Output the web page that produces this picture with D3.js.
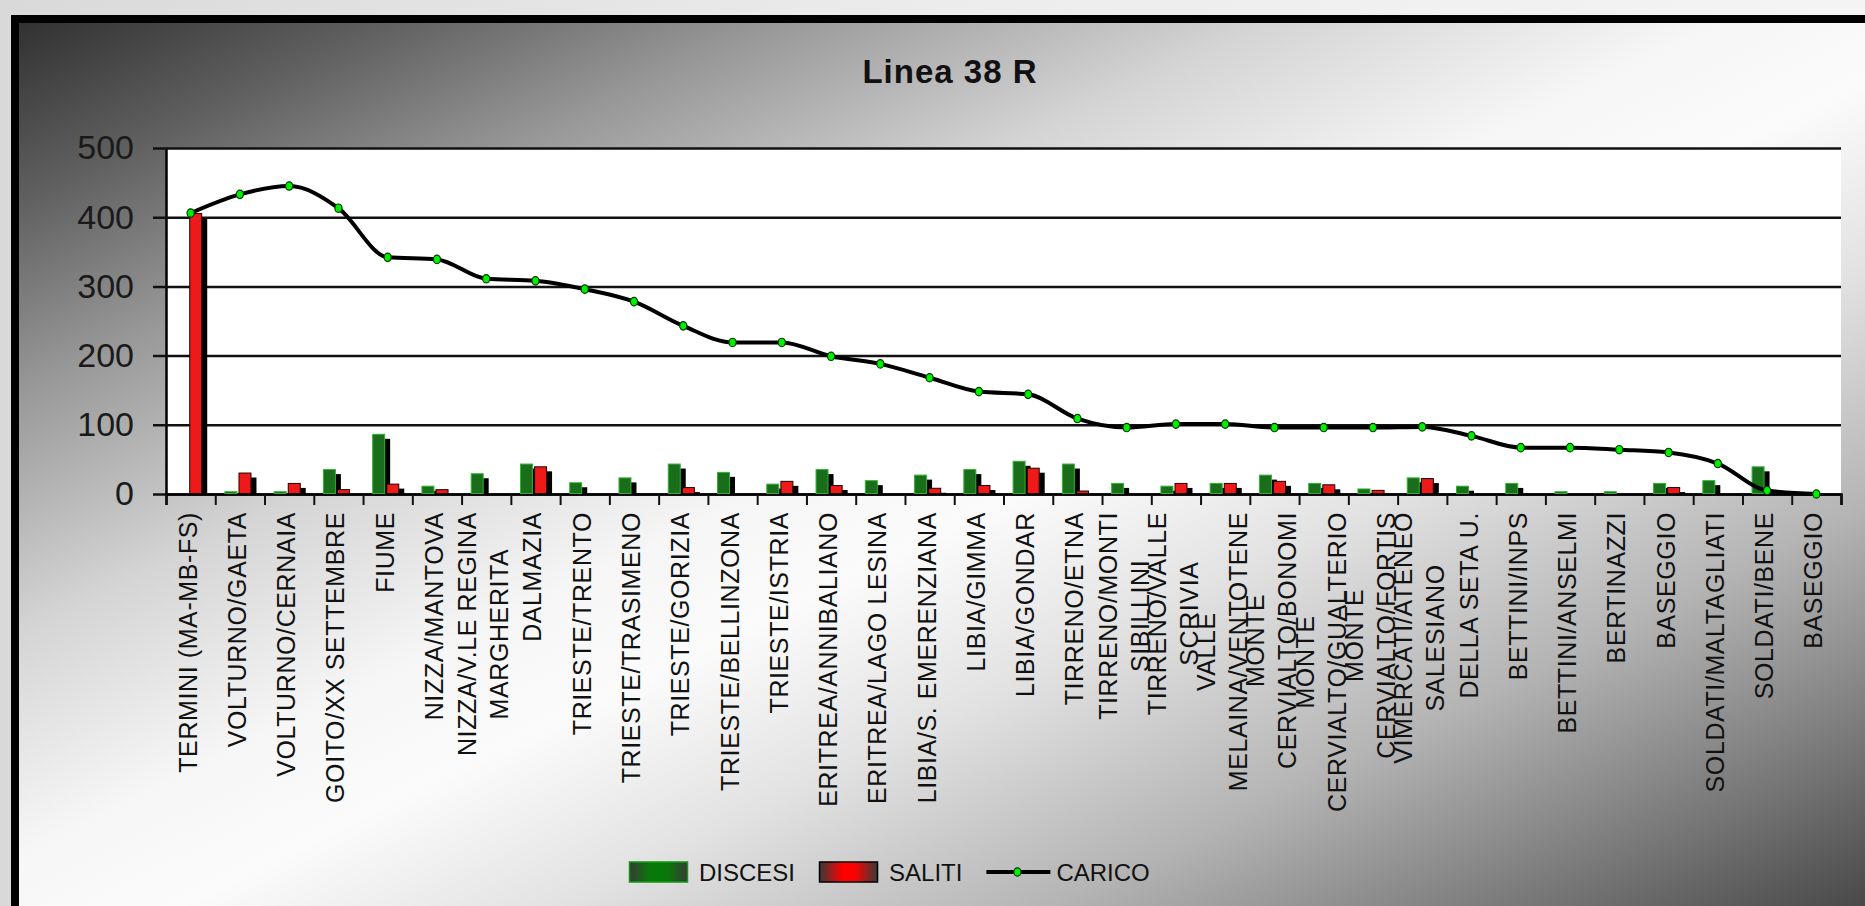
<!DOCTYPE html>
<html><head><meta charset="utf-8">
<script src="https://cdn.jsdelivr.net/npm/d3@7/dist/d3.min.js"></script>
<style>html,body{margin:0;padding:0;overflow:hidden;background:#e6e6e6}</style>
</head><body>
<svg id="chart" width="1865" height="906"></svg>
<script>
const chartTitle = "Linea 38 R";
const categories = [
  "TERMINI (MA-MB-FS)","VOLTURNO/GAETA","VOLTURNO/CERNAIA","GOITO/XX SETTEMBRE","FIUME",
  "NIZZA/MANTOVA","NIZZA/V.LE REGINA MARGHERITA","DALMAZIA","TRIESTE/TRENTO","TRIESTE/TRASIMENO",
  "TRIESTE/GORIZIA","TRIESTE/BELLINZONA","TRIESTE/ISTRIA","ERITREA/ANNIBALIANO","ERITREA/LAGO LESINA",
  "LIBIA/S. EMERENZIANA","LIBIA/GIMMA","LIBIA/GONDAR","TIRRENO/ETNA","TIRRENO/MONTI SIBILLINI",
  "TIRRENO/VALLE SCRIVIA","VALLE MELAINA/VENTOTENE","MONTE CERVIALTO/BONOMI","MONTE CERVIALTO/GUALTERIO","MONTE CERVIALTO/FORTIS",
  "VIMERCATI/ATENEO SALESIANO","DELLA SETA U.","BETTINI/INPS","BETTINI/ANSELMI","BERTINAZZI",
  "BASEGGIO","SOLDATI/MALTAGLIATI","SOLDATI/BENE","BASEGGIO"
];
const tickLabels = [
  "TERMINI (MA-MB-FS)","VOLTURNO/GAETA","VOLTURNO/CERNAIA","GOITO/XX SETTEMBRE","FIUME",
  "NIZZA/MANTOVA","NIZZA/V.LE REGINA\nMARGHERITA","DALMAZIA","TRIESTE/TRENTO","TRIESTE/TRASIMENO",
  "TRIESTE/GORIZIA","TRIESTE/BELLINZONA","TRIESTE/ISTRIA","ERITREA/ANNIBALIANO","ERITREA/LAGO LESINA",
  "LIBIA/S. EMERENZIANA","LIBIA/GIMMA","LIBIA/GONDAR","TIRRENO/ETNA","TIRRENO/MONTI\nSIBILLINI",
  "TIRRENO/VALLE\nSCRIVIA","VALLE\nMELAINA/VENTOTENE","MONTE\nCERVIALTO/BONOMI","MONTE\nCERVIALTO/GUALTERIO","MONTE\nCERVIALTO/FORTIS",
  "VIMERCATI/ATENEO\nSALESIANO","DELLA SETA U.","BETTINI/INPS","BETTINI/ANSELMI","BERTINAZZI",
  "BASEGGIO","SOLDATI/MALTAGLIATI","SOLDATI/BENE","BASEGGIO"
];
const discesi = [0,4,4,36,87,12,30,44,17,24,44,32,15,36,20,28,36,48,44,16,12,16,28,16,8,24,12,16,4,4,16,20,40,0];
const saliti  = [406,31,16,7,15,7,0,40,0,0,10,0,19,13,0,9,13,38,5,0,16,16,19,14,6,23,0,0,0,0,10,0,0,0];
const carico  = [406,433,445,413,342,339,311,308,296,278,243,219,219,199,188,168,148,144,109,96,101,101,96,96,96,97,84,67,67,64,60,44,5,0];
const yTickValues = [0,100,200,300,400,500];
const seriesNames = ["DISCESI","SALITI","CARICO"];

const FONT = "'Liberation Sans', Arial, sans-serif";
const svg = d3.select("#chart");
const defs = svg.append("defs");

function linGrad(id, x1,y1,x2,y2, stops){
  const g = defs.append("linearGradient").attr("id",id)
    .attr("x1",x1).attr("y1",y1).attr("x2",x2).attr("y2",y2);
  stops.forEach(s=>g.append("stop").attr("offset",s[0]).attr("stop-color",s[1]));
}
linGrad("pageBg",0,0,1,0,[[0,"#d9d9d9"],[0.5,"#ececec"],[1,"#f4f4f4"]]);
linGrad("frameBg",0,0,1,1,[[0,"#303030"],[0.1,"#606060"],[0.2,"#979797"],[0.33,"#d4d4d4"],[0.45,"#f6f6f6"],[0.52,"#fbfbfb"],[0.62,"#e2e2e2"],[0.75,"#b4b4b4"],[0.88,"#747474"],[1,"#363636"]]);
linGrad("legGreen",0,0,1,0,[[0,"#3a3a3a"],[0.35,"#087808"],[0.65,"#087808"],[1,"#3a3a3a"]]);
linGrad("legRed",0,0,1,0,[[0,"#3a3a3a"],[0.4,"#ff0000"],[0.6,"#ff0000"],[1,"#3a3a3a"]]);

// page & frame
svg.append("rect").attr("width",1865).attr("height",906).attr("fill","url(#pageBg)");
svg.append("rect").attr("x",15).attr("y",19).attr("width",1900).attr("height",930)
  .attr("fill","url(#frameBg)").attr("stroke","#000").attr("stroke-width",8);

// title
svg.append("text").attr("x",950).attr("y",83).attr("text-anchor","middle")
  .attr("font-family",FONT).attr("font-weight","bold").attr("font-size",33)
  .attr("letter-spacing",1).attr("fill","#111").text(chartTitle);

// scales
const plot = {left:166, right:1841, top:148, bottom:494};
const n = categories.length;
const x = d3.scaleBand().domain(d3.range(n)).range([plot.left, plot.right]).padding(0);
const bw = x.bandwidth();
const xs = d3.scaleBand().domain(["DISCESI","SALITI"]).range([0.185*bw, 0.735*bw]).paddingInner(0.08);
const y = d3.scaleLinear().domain([0,500]).range([plot.bottom, plot.top]);
const xb = d3.scaleLinear().domain([0,n]).range([plot.left, plot.right]);

// plot background
svg.append("rect").attr("x",plot.left).attr("y",plot.top)
  .attr("width",plot.right-plot.left).attr("height",plot.bottom-plot.top).attr("fill","#fff");

// y axis with gridlines
const yAxisG = svg.append("g").attr("transform",`translate(${plot.left},0)`)
  .call(d3.axisLeft(y).tickValues(yTickValues).tickSize(13).tickPadding(19).tickSizeOuter(0));
yAxisG.select(".domain").attr("stroke","#000").attr("stroke-width",2.5);
yAxisG.selectAll(".tick line").attr("x1", plot.right-plot.left).attr("stroke","#111").attr("stroke-width",2.5);
yAxisG.selectAll(".tick text").attr("font-family",FONT).attr("font-size",34).attr("fill","#1a1a1a");

// x axis ticks at category boundaries
const xAxisG = svg.append("g").attr("transform",`translate(0,${plot.bottom})`)
  .call(d3.axisBottom(xb).tickValues(d3.range(n+1)).tickSize(11).tickFormat(""));
xAxisG.select(".domain").attr("stroke","#000").attr("stroke-width",2.5);
xAxisG.selectAll(".tick line").attr("stroke","#111").attr("stroke-width",2);

// bars
const SH = 5;
const barSeries = [
  {name:"DISCESI", values:discesi, fill:"#1a6d1a", stroke:"#32b032"},
  {name:"SALITI", values:saliti, fill:"#ee1a1a", stroke:"#220000"}
];
const barsG = svg.append("g");
barSeries.forEach(s=>{
  const data = s.values.map((v,i)=>({i,v})).filter(d=>d.v>0);
  barsG.selectAll(null).data(data).enter().append("rect")
    .attr("x",d=>x(d.i)+xs(s.name)+SH)
    .attr("y",d=>Math.min(y(d.v)+SH, y(0)))
    .attr("width",xs.bandwidth())
    .attr("height",d=>Math.max(0, y(0)-y(d.v)-SH))
    .attr("fill","#000");
  barsG.selectAll(null).data(data).enter().append("rect")
    .attr("x",d=>x(d.i)+xs(s.name)+0.5)
    .attr("y",d=>y(d.v)+0.5)
    .attr("width",xs.bandwidth()-1)
    .attr("height",d=>Math.max(0,y(0)-y(d.v)-1))
    .attr("fill",s.fill).attr("stroke",s.stroke).attr("stroke-width",1);
});

// line
const line = d3.line().x((d,i)=>x(i)+bw/2).y(d=>y(d)).curve(d3.curveMonotoneX);
svg.append("path").datum(carico).attr("d",line).attr("fill","none")
  .attr("stroke","#000").attr("stroke-width",4).attr("stroke-linejoin","round");
svg.append("g").selectAll("ellipse").data(carico).enter().append("ellipse")
  .attr("cx",(d,i)=>x(i)+bw/2).attr("cy",d=>y(d)).attr("rx",3.6).attr("ry",4.2)
  .attr("fill","#00f000").attr("stroke","#063806").attr("stroke-width",1.2);

// category labels (rotated)
const LABEL_TOP = 512, LINE_GAP = 32, LABEL_SIZE = 25;
const labG = svg.append("g");
tickLabels.forEach((lab,i)=>{
  const lines = lab.split("\n");
  const g = labG.append("g")
    .attr("transform",`translate(${x(i)+bw/2-3},${LABEL_TOP}) rotate(-90)`);
  const texts = lines.map((t,k)=> g.append("text")
    .attr("font-family",FONT).attr("font-size",LABEL_SIZE).attr("letter-spacing",0.6).attr("fill","#111")
    .attr("y",(k-(lines.length-1)/2)*LINE_GAP).attr("dy","0.36em").text(t));
  const L = d3.max(texts, t=>t.node().getComputedTextLength());
  texts.forEach(t=>t.attr("text-anchor","middle").attr("x",-L/2));
});

// legend
const legG = svg.append("g").attr("font-family",FONT).attr("font-size",24).attr("fill","#111");
let lx = 629; const ly = 872;
seriesNames.forEach((name,k)=>{
  if(k<2){
    legG.append("rect").attr("x",lx+0.5).attr("y",ly-10).attr("width",58).attr("height",20)
      .attr("fill", k===0?"url(#legGreen)":"url(#legRed)")
      .attr("stroke", k===0?"#119911":"#000").attr("stroke-width",1.5);
    lx += 70;
  } else {
    legG.append("line").attr("x1",lx).attr("x2",lx+64).attr("y1",ly).attr("y2",ly)
      .attr("stroke","#000").attr("stroke-width",4);
    legG.append("ellipse").attr("cx",lx+31).attr("cy",ly).attr("rx",3.6).attr("ry",4.2)
      .attr("fill","#00f000").attr("stroke","#063806").attr("stroke-width",1.2);
    lx += 70;
  }
  const t = legG.append("text").attr("x",lx).attr("y",ly).attr("dy","0.36em").text(name);
  lx += t.node().getComputedTextLength() + 24;
});
</script>
</body></html>
